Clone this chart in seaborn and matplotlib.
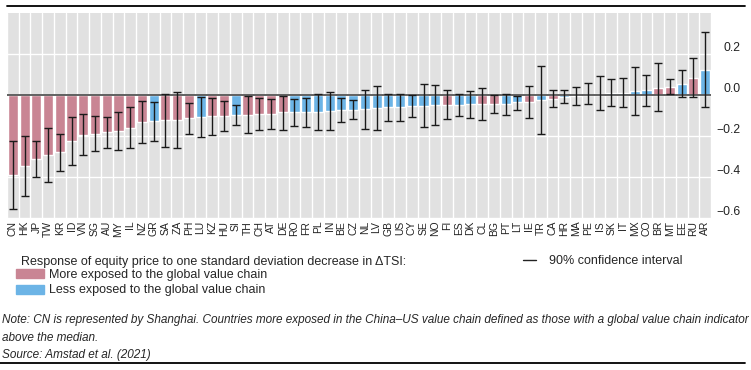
import numpy as np
import pandas as pd
import matplotlib
matplotlib.use('Agg')
import matplotlib.pyplot as plt
import seaborn as sns
from matplotlib.patches import Patch
from matplotlib.lines import Line2D

country = ['CN', 'HK', 'JP', 'TW', 'KR', 'ID', 'VN', 'SG', 'AU', 'MY',
           'IL', 'NZ', 'GR', 'SA', 'ZA', 'PH', 'LU', 'KZ', 'HU', 'SI',
           'TH', 'CH', 'AT', 'DE', 'RO', 'FR', 'PL', 'IN', 'BE', 'CZ',
           'NL', 'LV', 'GB', 'US', 'CY', 'SE', 'NO', 'FI', 'ES', 'DK',
           'CL', 'BG', 'PT', 'LT', 'IE', 'TR', 'CA', 'HR', 'MA', 'PE',
           'IS', 'SK', 'IT', 'MX', 'CO', 'BR', 'MT', 'EE', 'RU', 'AR']
response = [-0.392, -0.348, -0.313, -0.293, -0.280, -0.227, -0.194, -0.190, -0.183, -0.177,
            -0.160, -0.135, -0.130, -0.125, -0.123, -0.115, -0.110, -0.105, -0.102, -0.097,
            -0.097, -0.094, -0.092, -0.086, -0.086, -0.084, -0.083, -0.079, -0.075, -0.073,
            -0.071, -0.065, -0.062, -0.062, -0.055, -0.053, -0.050, -0.050, -0.049, -0.047,
            -0.045, -0.045, -0.044, -0.037, -0.036, -0.024, -0.021, -0.011, -0.008, -0.003,
            0.003, 0.006, 0.010, 0.016, 0.024, 0.032, 0.037, 0.052, 0.079, 0.122]
ci_upper = [-0.227, -0.199, -0.227, -0.162, -0.191, -0.109, -0.094, -0.105, -0.109, -0.084,
            -0.060, -0.029, -0.034, 0.002, 0.011, -0.042, -0.011, -0.018, -0.029, -0.049,
            -0.008, -0.016, -0.021, -0.008, -0.019, -0.015, 0.002, 0.011, -0.018, -0.028,
            0.023, 0.044, 0.005, 0.002, -0.003, 0.052, 0.045, 0.021, 0.003, 0.018,
            0.031, -0.003, 0.003, -0.005, 0.041, 0.138, 0.021, 0.021, 0.037, 0.057,
            0.089, 0.075, 0.083, 0.133, 0.097, 0.154, 0.078, 0.118, 0.178, 0.305]
ci_lower = [-0.556, -0.494, -0.400, -0.423, -0.371, -0.342, -0.293, -0.276, -0.259, -0.269,
            -0.261, -0.235, -0.225, -0.253, -0.261, -0.191, -0.207, -0.194, -0.175, -0.149,
            -0.186, -0.173, -0.165, -0.170, -0.154, -0.157, -0.170, -0.170, -0.133, -0.117,
            -0.165, -0.173, -0.130, -0.126, -0.109, -0.157, -0.146, -0.118, -0.102, -0.113,
            -0.122, -0.090, -0.097, -0.073, -0.113, -0.191, -0.060, -0.041, -0.050, -0.044,
            -0.073, -0.057, -0.060, -0.097, -0.053, -0.081, 0.005, -0.011, -0.013, -0.060]
more_exposed = ['CN', 'HK', 'JP', 'TW', 'KR', 'ID', 'VN', 'SG', 'AU', 'MY', 'IL', 'NZ',
                'SA', 'ZA', 'PH', 'KZ', 'HU', 'TH', 'CH', 'AT', 'DE', 'FI', 'CL', 'BG',
                'IE', 'CA', 'PE', 'BR', 'MT', 'RU']
yticks = [-0.6, -0.4, -0.2, 0.0, 0.2]

lab_more = 'More exposed to the global value chain'
lab_less = 'Less exposed to the global value chain'
red = '#c98594'
blue = '#6cb4e6'

df = pd.DataFrame({'country': country, 'response': response,
                   'lo': ci_lower, 'hi': ci_upper})
df['group'] = [lab_more if c in more_exposed else lab_less for c in country]

sns.set_style('darkgrid', {'axes.facecolor': '#e1e1e1', 'grid.color': 'white'})
plt.rcParams['font.family'] = ['Liberation Sans', 'DejaVu Sans']

fig = plt.figure(figsize=(7.51, 3.70), dpi=100)
ax = fig.add_axes([7 / 751, 1 - 218 / 370, 704 / 751, 205.5 / 370])

sns.barplot(data=df, x='country', y='response', hue='group', order=country,
            palette={lab_more: red, lab_less: blue}, dodge=False, width=0.86,
            saturation=1, legend=False, ax=ax, zorder=2)

pos = np.arange(len(df))
ax.errorbar(pos, df['response'], yerr=[df['response'] - df['lo'], df['hi'] - df['response']],
            fmt='none', ecolor='#1a1a1a', elinewidth=1.0, capsize=2.7, capthick=1.0, zorder=4)
ax.axhline(0, color='#555555', lw=1.3, zorder=3)

ax.set_xlim(-0.5, len(df) - 0.5)
ax.set_ylim(-0.6, 0.4)
ax.set_xticks(np.arange(-0.5, len(df) + 0.5, 1), minor=True)
ax.grid(which='major', axis='x', visible=False)
ax.grid(which='minor', axis='x', color='white', lw=1)
ax.grid(which='major', axis='y', color='white', lw=1)
ax.set_yticks(yticks)
ax.yaxis.tick_right()
ax.tick_params(which='both', length=0)
ax.tick_params(axis='y', labelsize=8.7, pad=21, colors='#222222')
ax.tick_params(axis='x', labelsize=7.5, pad=2, colors='#222222')
for t in ax.get_yticklabels():
    t.set_horizontalalignment('right')
    t.set_verticalalignment('bottom')
plt.setp(ax.get_xticklabels(), rotation=90)
ax.set_xlabel('')
ax.set_ylabel('')
for s in ax.spines.values():
    s.set_visible(False)

fs = 9.0
fs_note = 8.45
fig.text(21 / 751, 1 - 262 / 370, 'Response of equity price to one standard deviation decrease in \u0394TSI:',
         fontsize=fs, va='center', ha='left')
fig.legend(handles=[Patch(color=red), Patch(color=blue)], labels=[lab_more, lab_less],
           loc='upper left', bbox_to_anchor=(16 / 751, 1 - 269 / 370), frameon=False,
           fontsize=fs, handlelength=2.2, handleheight=0.75, handletextpad=0.42,
           labelspacing=0.28, borderpad=0, borderaxespad=0)
fig.legend(handles=[Line2D([], [], color='#222222', lw=1)], labels=['90% confidence interval'],
           loc='center left', bbox_to_anchor=(523 / 751, 1 - 261 / 370), frameon=False,
           fontsize=fs, handlelength=1.05, handletextpad=1.0, borderpad=0, borderaxespad=0)

fig.text(2 / 751, 1 - 320 / 370,
         'Note: CN is represented by Shanghai. Countries more exposed in the China\u2013US value chain '
         'defined as those with a global value chain indicator',
         fontsize=fs_note, style='italic', va='center', ha='left')
fig.text(2 / 751, 1 - 338 / 370, 'above the median.', fontsize=fs_note, style='italic',
         va='center', ha='left')
fig.text(2 / 751, 1 - 355 / 370, 'Source: Amstad et al. (2021)', fontsize=fs_note, style='italic',
         va='center', ha='left')

fig.add_artist(Line2D([7 / 751, 745 / 751], [1 - 6 / 370, 1 - 6 / 370], color='black', lw=1.3))
fig.add_artist(Line2D([0, 745 / 751], [1 - 362.5 / 370, 1 - 362.5 / 370], color='black', lw=1.3))

fig.savefig('out.png', dpi=100)
